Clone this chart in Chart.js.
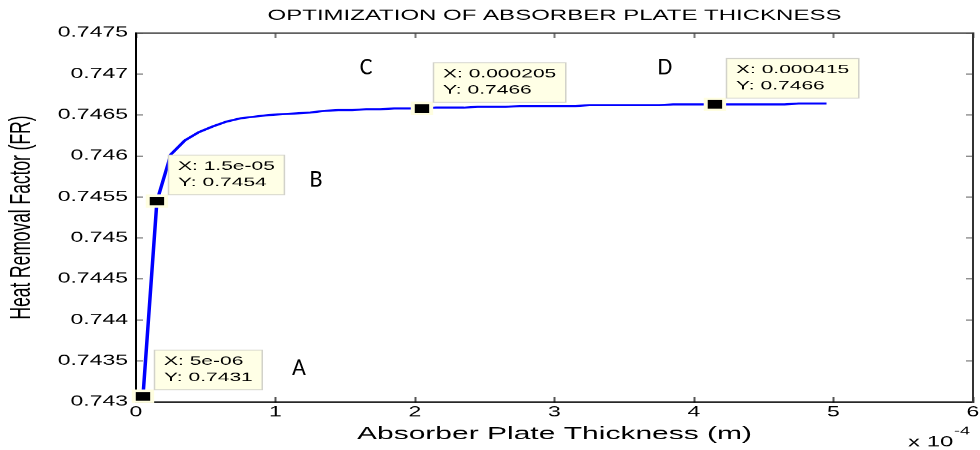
<!DOCTYPE html>
<html>
<head>
<meta charset="utf-8">
<script src="https://cdn.jsdelivr.net/npm/chart.js"></script>
<style>
html, body { margin: 0; padding: 0; background: #fff; overflow: hidden; }
#wrap { width: 980px; height: 450px; overflow: hidden; }
/* the figure is squashed vertically, like the reference picture */
#chart { display: block; transform: scaleY(0.6); transform-origin: 0 0; }
</style>
</head>
<body>
<div id="wrap"><canvas id="chart" width="980" height="750"></canvas></div>
<script>
var SY = 0.6;

var thickness = [5e-6, 1.5e-5, 2.5e-5, 3.5e-5, 4.5e-5, 5.5e-5, 6.5e-5, 7.5e-5, 8.5e-5, 9.5e-5,
  1.05e-4, 1.15e-4, 1.25e-4, 1.35e-4, 1.45e-4, 1.55e-4, 1.65e-4, 1.75e-4, 1.85e-4, 1.95e-4,
  2.05e-4, 2.15e-4, 2.25e-4, 2.35e-4, 2.45e-4, 2.55e-4, 2.65e-4, 2.75e-4, 2.85e-4, 2.95e-4,
  3.05e-4, 3.15e-4, 3.25e-4, 3.35e-4, 3.45e-4, 3.55e-4, 3.65e-4, 3.75e-4, 3.85e-4, 3.95e-4,
  4.05e-4, 4.15e-4, 4.25e-4, 4.35e-4, 4.45e-4, 4.55e-4, 4.65e-4, 4.75e-4, 4.85e-4, 4.95e-4];
var heatRemoval = [0.74307, 0.74545, 0.74602, 0.74619, 0.74629, 0.74636, 0.74642, 0.74646, 0.74648, 0.74650,
  0.74651, 0.74652, 0.74653, 0.74655, 0.74656, 0.74656, 0.74657, 0.74657, 0.74658, 0.74658,
  0.74658, 0.74659, 0.74659, 0.74659, 0.74660, 0.74660, 0.74660, 0.74661, 0.74661, 0.74661,
  0.74661, 0.74661, 0.74662, 0.74662, 0.74662, 0.74662, 0.74662, 0.74662, 0.74663, 0.74663,
  0.74663, 0.74663, 0.74663, 0.74663, 0.74663, 0.74663, 0.74663, 0.74664, 0.74664, 0.74664];

// data tips (index into the series above)
var tipIndex = [0, 1, 20, 41];
var tipXText = ['5e-06', '1.5e-05', '0.000205', '0.000415'];
var tipYText = ['0.7431', '0.7454', '0.7466', '0.7466'];

// region letters
var regionText = ['A', 'B', 'C', 'D'];
var regionX = [1.168e-4, 1.29e-4, 1.649e-4, 3.792e-4];
var regionY = [0.74340, 0.74570, 0.74707, 0.74707];

var xTickVals = [0, 1e-4, 2e-4, 3e-4, 4e-4, 5e-4, 6e-4];
var xTickLabels = ['0', '1', '2', '3', '4', '5', '6'];
var yTickVals = [0.743, 0.7435, 0.744, 0.7445, 0.745, 0.7455, 0.746, 0.7465, 0.747, 0.7475];
var yTickLabels = ['0.743', '0.7435', '0.744', '0.7445', '0.745', '0.7455', '0.746', '0.7465', '0.747', '0.7475'];

var FONT = "'Liberation Sans', Arial, Helvetica, sans-serif";

var points = [];
for (var i = 0; i < thickness.length; i++) {
  points.push({x: thickness[i], y: heatRemoval[i]});
}
var tipPoints = [];
for (var j = 0; j < tipIndex.length; j++) {
  tipPoints.push({x: thickness[tipIndex[j]], y: heatRemoval[tipIndex[j]]});
}

var annotations = {
  id: 'annotations',
  afterDraw: function(chart) {
    var ctx = chart.ctx;
    var xs = chart.scales.x, ys = chart.scales.y;
    var area = chart.chartArea;
    ctx.save();

    // title
    ctx.fillStyle = '#000';
    ctx.font = '24px ' + FONT;
    ctx.textAlign = 'center';
    ctx.textBaseline = 'middle';
    ctx.fillText('OPTIMIZATION OF ABSORBER PLATE THICKNESS', (area.left + area.right) / 2, 26);

    // exponent
    ctx.textAlign = 'left';
    ctx.textBaseline = 'alphabetic';
    ctx.font = '24px ' + FONT;
    ctx.fillText('x 10', 908, 744);
    ctx.font = '18px ' + FONT;
    ctx.fillText('-4', 954, 724);

    // data tips
    ctx.font = '21px ' + FONT;
    for (var i = 0; i < tipIndex.length; i++) {
      var k = tipIndex[i];
      var px = xs.getPixelForValue(thickness[k]);
      var py = ys.getPixelForValue(heatRemoval[k]);
      var l1 = 'X: ' + tipXText[i], l2 = 'Y: ' + tipYText[i];
      var w = Math.max(ctx.measureText(l1).width, ctx.measureText(l2).width) + 20;
      var h = 67;
      var bx = Math.round(px + 11), by = Math.round(py - 10 - h);
      ctx.fillStyle = '#ffffe6';
      ctx.fillRect(bx, by, w, h);
      ctx.strokeStyle = '#d2d2ca';
      ctx.lineWidth = 1.5;
      ctx.strokeRect(bx + 0.5, by + 0.5, w - 1, h - 1);
      ctx.fillStyle = '#000';
      ctx.fillText(l1, bx + 10, by + 25);
      ctx.fillText(l2, bx + 10, by + 52);
    }

    // letters, drawn unsquashed
    ctx.font = "24px Carlito, Lato, 'Open Sans', sans-serif";
    ctx.textAlign = 'center';
    ctx.textBaseline = 'middle';
    for (var r = 0; r < regionText.length; r++) {
      ctx.save();
      ctx.translate(xs.getPixelForValue(regionX[r]), ys.getPixelForValue(regionY[r]));
      ctx.scale(1, 1 / SY);
      ctx.fillText(regionText[r], 0, 0);
      ctx.restore();
    }
    ctx.restore();
  }
};

function xTicks(scale) { scale.ticks = xTickVals.map(function(v) { return {value: v}; }); }
function yTicks(scale) { scale.ticks = yTickVals.map(function(v) { return {value: v}; }); }
function noPad(s) { s.paddingLeft = 0; s.paddingRight = 0; s.paddingTop = 0; s.paddingBottom = 0; }

var ctx = document.getElementById('chart');
var chart = new Chart(ctx, {
  type: 'scatter',
  data: {
    datasets: [
      {
        data: tipPoints,
        order: 0,
        pointStyle: 'rect',
        pointRadius: 13,
        backgroundColor: '#000',
        borderColor: '#fffee0',
        borderWidth: 4,
        clip: false
      },
      {
        data: points,
        order: 1,
        showLine: true,
        borderColor: '#0000ff',
        borderWidth: 3.5,
        pointRadius: 0,
        tension: 0
      }
    ]
  },
  options: {
    responsive: false,
    animation: false,
    devicePixelRatio: 1,
    events: [],
    layout: { padding: 0, autoPadding: false },
    plugins: { legend: { display: false }, title: { display: false }, tooltip: { enabled: false } },
    scales: {
      x: {
        type: 'linear', position: 'bottom', min: 0, max: 6e-4,
        afterBuildTicks: xTicks,
        afterFit: function(s) { s.height = 80; noPad(s); },
        grid: { drawOnChartArea: false, tickLength: -8, tickColor: '#555', tickWidth: 2 },
        border: { color: '#000', width: 2.5 },
        ticks: {
          padding: 12, color: '#000', maxRotation: 0, autoSkip: false,
          font: { family: FONT, size: 23 },
          callback: function(v, i) { return xTickLabels[i]; }
        },
        title: {
          display: true, text: 'Absorber Plate Thickness (m)', color: '#000',
          font: { family: FONT, size: 30 }, padding: { top: 0, bottom: 8 }
        }
      },
      x2: {
        type: 'linear', position: 'top', min: 0, max: 6e-4,
        afterBuildTicks: xTicks,
        afterFit: function(s) { s.height = 55; noPad(s); },
        grid: { drawOnChartArea: false, tickLength: -8, tickColor: '#777', tickWidth: 2 },
        border: { color: '#444', width: 2.5 },
        ticks: { display: false }
      },
      y: {
        type: 'linear', position: 'left', min: 0.743, max: 0.7475,
        afterBuildTicks: yTicks,
        afterFit: function(s) { s.width = 136; noPad(s); },
        grid: { drawOnChartArea: false, tickLength: -7, tickColor: '#777', tickWidth: 2 },
        border: { color: '#000', width: 2 },
        ticks: {
          padding: 15, color: '#000', autoSkip: false,
          font: { family: FONT, size: 23 },
          callback: function(v, i) { return yTickLabels[i]; }
        },
        title: {
          display: true, text: 'Heat Removal Factor (FR)', color: '#000',
          font: { family: FONT, size: 29 }, padding: { top: 5, bottom: 0 }
        }
      },
      y2: {
        type: 'linear', position: 'right', min: 0.743, max: 0.7475,
        afterBuildTicks: yTicks,
        afterFit: function(s) { s.width = 7; noPad(s); },
        grid: { drawOnChartArea: false, tickLength: -7, tickColor: '#777', tickWidth: 2 },
        border: { color: '#333', width: 2 },
        ticks: { display: false }
      }
    }
  },
  plugins: [annotations]
});
</script>
</body>
</html>
